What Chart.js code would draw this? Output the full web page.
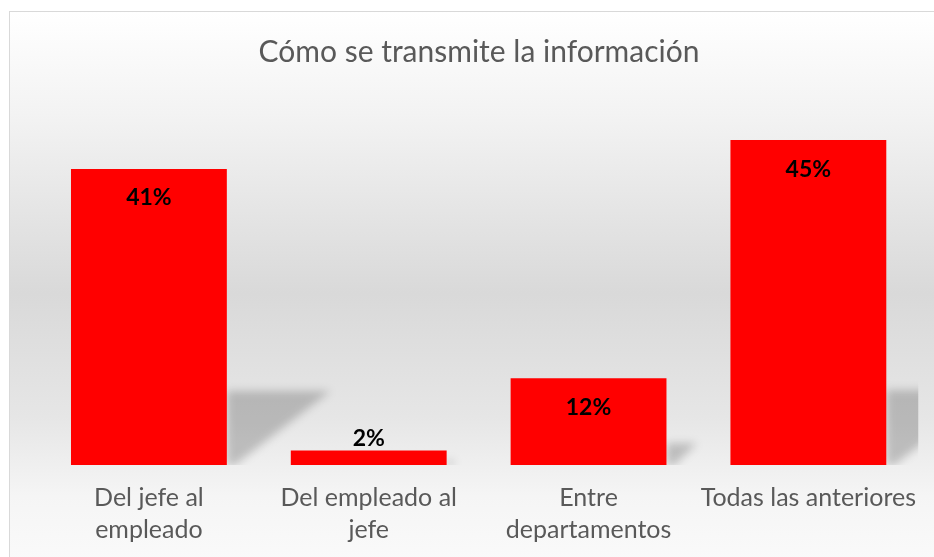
<!DOCTYPE html>
<html>
<head>
<meta charset="utf-8">
<script src="https://cdn.jsdelivr.net/npm/chart.js@4"></script>
<style>
  body { margin: 0; overflow: hidden; background: #fff; }
  #wrap {
    position: absolute; left: 9px; top: 11px;
    width: 925px; height: 563px;
    border-left: 1px solid #d9d9d9; border-top: 1px solid #d9d9d9;
    background: linear-gradient(to bottom, #ffffff 0%, #f3f3f3 18%, #d9d9d9 50%, #e6e6e6 72%, #f5f5f5 86%, #fbfbfb 100%);
  }
</style>
</head>
<body>
<div id="wrap"><canvas id="my-chart"></canvas></div>
<script>
'use strict';

// data
let categories = [['Del jefe al', 'empleado'], ['Del empleado al', 'jefe'], ['Entre', 'departamentos'], 'Todas las anteriores'];
let percentValues = [41, 2, 12, 45];
let yMin = 0;
let yMax = 50;

let chartTitle = 'Cómo se transmite la información';

// shadow behind each bar (drawn from bar elements)
let barShadows = {
  id: 'barShadows',
  beforeDatasetsDraw(chart) {
    let ctx = chart.ctx;
    let area = chart.chartArea;
    let bars = chart.getDatasetMeta(0).data;
    ctx.save();
    ctx.beginPath();
    ctx.rect(area.left, area.top, area.right - area.left, area.bottom - area.top);
    ctx.clip();
    ctx.filter = 'blur(4px)';
    ctx.fillStyle = 'rgba(0,0,0,0.2)';
    for (let i = 0; i < bars.length; i++) {
      let b = bars[i];
      let right = b.x + b.width / 2;
      let h = b.base - b.y;
      let sh = Math.min(h * 0.25, 75);
      if (h < 40) sh = h * 0.32;
      ctx.beginPath();
      ctx.moveTo(right, b.base);
      ctx.lineTo(right, b.base - sh);
      ctx.lineTo(right + sh * 1.4, b.base - sh);
      ctx.lineTo(right + 8, b.base);
      ctx.closePath();
      ctx.fill();
    }
    ctx.restore();
  }
};

// percent labels
let barLabels = {
  id: 'barLabels',
  afterDatasetsDraw(chart) {
    let ctx = chart.ctx;
    let bars = chart.getDatasetMeta(0).data;
    ctx.save();
    ctx.font = 'bold 23px Lato';
    ctx.fillStyle = '#000000';
    ctx.textAlign = 'center';
    ctx.textBaseline = 'middle';
    for (let i = 0; i < bars.length; i++) {
      let b = bars[i];
      let h = b.base - b.y;
      let y = h > 40 ? b.y + 29 : b.y - 12;
      ctx.fillText(percentValues[i] + '%', b.x, y);
    }
    ctx.restore();
  }
};

const ctx = document.getElementById('my-chart').getContext('2d');

let chartData = {
  type: 'bar',
  data: {
    labels: categories,
    datasets: [{
      data: percentValues,
      backgroundColor: '#ff0000',
      borderWidth: 0,
      categoryPercentage: 1,
      barPercentage: 0.709
    }]
  },
  options: {
    responsive: true,
    maintainAspectRatio: false,
    animation: false,
    layout: { padding: { left: 29, right: 16, top: 0, bottom: 12 } },
    plugins: {
      legend: { display: false },
      tooltip: { enabled: false },
      title: {
        display: true,
        text: chartTitle,
        color: '#595959',
        font: { family: 'Lato', size: 30, weight: 'normal', lineHeight: 1.2 },
        padding: { top: 22, bottom: 34 }
      }
    },
    scales: {
      x: {
        grid: { display: false, drawTicks: false },
        border: { display: false },
        ticks: {
          color: '#595959',
          padding: 17,
          maxRotation: 0,
          autoSkip: false,
          font: { family: 'Lato', size: 25, lineHeight: 1.28 }
        }
      },
      y: {
        display: false,
        min: yMin,
        max: yMax
      }
    }
  },
  plugins: [barShadows, barLabels]
};

new Chart(ctx, chartData);
</script>
</body>
</html>
